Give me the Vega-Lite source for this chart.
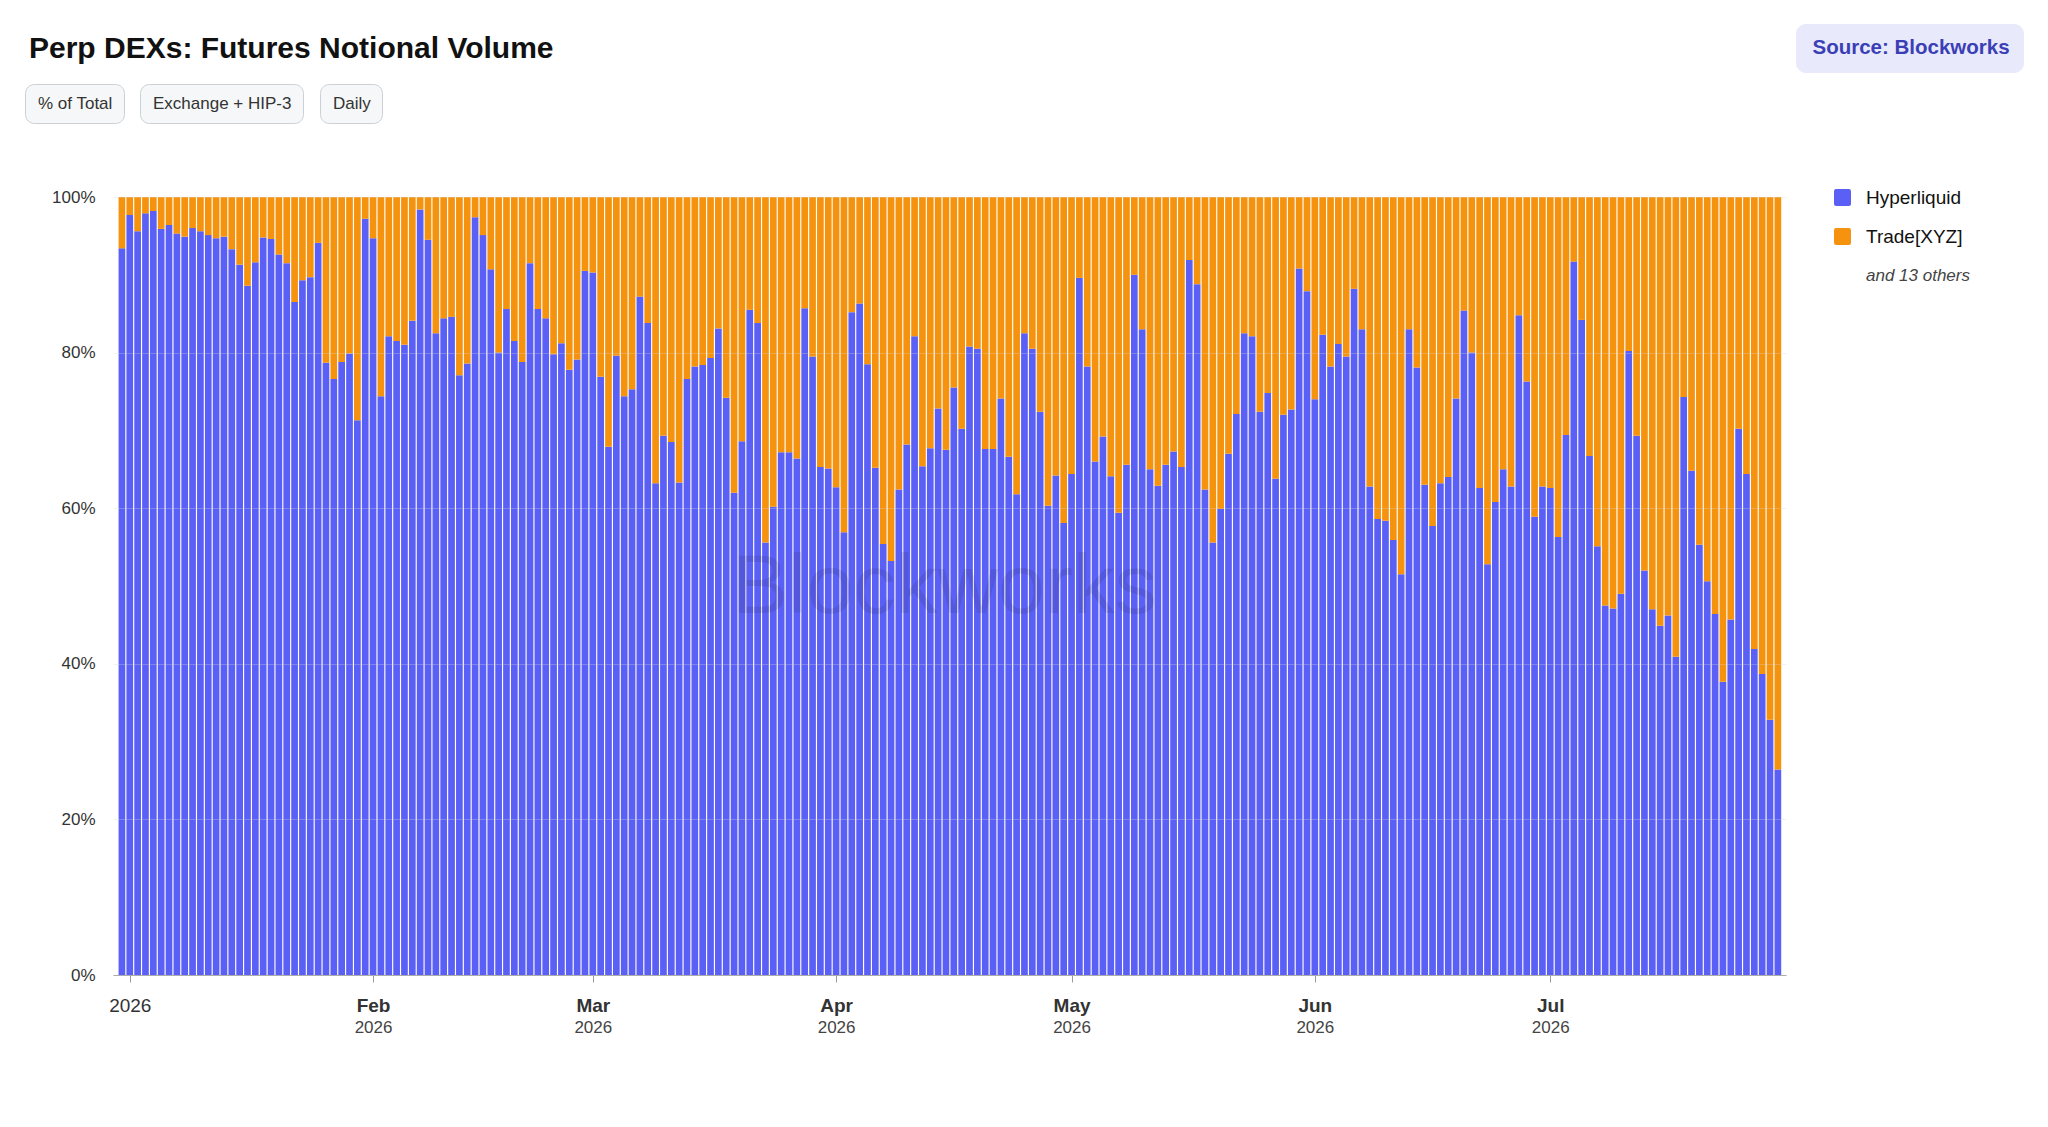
{
  "$schema": "https://vega.github.io/schema/vega-lite/v6.json",
  "description": "Perp DEXs futures notional volume, share of total",
  "width": 1673,
  "height": 778,
  "autosize": "none",
  "padding": {"left": 113, "top": 197, "right": 262, "bottom": 152},
  "background": "#ffffff",
  "title": {
    "text": "Perp DEXs: Futures Notional Volume",
    "anchor": "start",
    "frame": "group",
    "dx": -84,
    "offset": -40,
    "fontSize": 30,
    "fontWeight": "bold",
    "color": "#111111"
  },
  "data": {
    "values": [
      {"d": "2025-12-31", "hl": 93.4, "xyz": 6.6},
      {"d": "2026-01-01", "hl": 97.7, "xyz": 2.3},
      {"d": "2026-01-02", "hl": 95.6, "xyz": 4.4},
      {"d": "2026-01-03", "hl": 97.9, "xyz": 2.1},
      {"d": "2026-01-04", "hl": 98.2, "xyz": 1.8},
      {"d": "2026-01-05", "hl": 95.9, "xyz": 4.1},
      {"d": "2026-01-06", "hl": 96.4, "xyz": 3.6},
      {"d": "2026-01-07", "hl": 95.3, "xyz": 4.7},
      {"d": "2026-01-08", "hl": 94.9, "xyz": 5.1},
      {"d": "2026-01-09", "hl": 96.0, "xyz": 4.0},
      {"d": "2026-01-10", "hl": 95.6, "xyz": 4.4},
      {"d": "2026-01-11", "hl": 95.1, "xyz": 4.9},
      {"d": "2026-01-12", "hl": 94.7, "xyz": 5.3},
      {"d": "2026-01-13", "hl": 94.9, "xyz": 5.1},
      {"d": "2026-01-14", "hl": 93.3, "xyz": 6.7},
      {"d": "2026-01-15", "hl": 91.3, "xyz": 8.7},
      {"d": "2026-01-16", "hl": 88.6, "xyz": 11.4},
      {"d": "2026-01-17", "hl": 91.6, "xyz": 8.4},
      {"d": "2026-01-18", "hl": 94.8, "xyz": 5.2},
      {"d": "2026-01-19", "hl": 94.6, "xyz": 5.4},
      {"d": "2026-01-20", "hl": 92.6, "xyz": 7.4},
      {"d": "2026-01-21", "hl": 91.5, "xyz": 8.5},
      {"d": "2026-01-22", "hl": 86.5, "xyz": 13.5},
      {"d": "2026-01-23", "hl": 89.3, "xyz": 10.7},
      {"d": "2026-01-24", "hl": 89.7, "xyz": 10.3},
      {"d": "2026-01-25", "hl": 94.1, "xyz": 5.9},
      {"d": "2026-01-26", "hl": 78.7, "xyz": 21.3},
      {"d": "2026-01-27", "hl": 76.6, "xyz": 23.4},
      {"d": "2026-01-28", "hl": 78.8, "xyz": 21.2},
      {"d": "2026-01-29", "hl": 79.9, "xyz": 20.1},
      {"d": "2026-01-30", "hl": 71.3, "xyz": 28.7},
      {"d": "2026-01-31", "hl": 97.2, "xyz": 2.8},
      {"d": "2026-02-01", "hl": 94.7, "xyz": 5.3},
      {"d": "2026-02-02", "hl": 74.4, "xyz": 25.6},
      {"d": "2026-02-03", "hl": 82.1, "xyz": 17.9},
      {"d": "2026-02-04", "hl": 81.5, "xyz": 18.5},
      {"d": "2026-02-05", "hl": 81.0, "xyz": 19.0},
      {"d": "2026-02-06", "hl": 84.1, "xyz": 15.9},
      {"d": "2026-02-07", "hl": 98.4, "xyz": 1.6},
      {"d": "2026-02-08", "hl": 94.5, "xyz": 5.5},
      {"d": "2026-02-09", "hl": 82.5, "xyz": 17.5},
      {"d": "2026-02-10", "hl": 84.4, "xyz": 15.6},
      {"d": "2026-02-11", "hl": 84.6, "xyz": 15.4},
      {"d": "2026-02-12", "hl": 77.1, "xyz": 22.9},
      {"d": "2026-02-13", "hl": 78.6, "xyz": 21.4},
      {"d": "2026-02-14", "hl": 97.4, "xyz": 2.6},
      {"d": "2026-02-15", "hl": 95.1, "xyz": 4.9},
      {"d": "2026-02-16", "hl": 90.7, "xyz": 9.3},
      {"d": "2026-02-17", "hl": 80.0, "xyz": 20.0},
      {"d": "2026-02-18", "hl": 85.6, "xyz": 14.4},
      {"d": "2026-02-19", "hl": 81.5, "xyz": 18.5},
      {"d": "2026-02-20", "hl": 78.8, "xyz": 21.2},
      {"d": "2026-02-21", "hl": 91.5, "xyz": 8.5},
      {"d": "2026-02-22", "hl": 85.6, "xyz": 14.4},
      {"d": "2026-02-23", "hl": 84.4, "xyz": 15.6},
      {"d": "2026-02-24", "hl": 79.8, "xyz": 20.2},
      {"d": "2026-02-25", "hl": 81.2, "xyz": 18.8},
      {"d": "2026-02-26", "hl": 77.8, "xyz": 22.2},
      {"d": "2026-02-27", "hl": 79.1, "xyz": 20.9},
      {"d": "2026-02-28", "hl": 90.5, "xyz": 9.5},
      {"d": "2026-03-01", "hl": 90.3, "xyz": 9.7},
      {"d": "2026-03-02", "hl": 76.9, "xyz": 23.1},
      {"d": "2026-03-03", "hl": 67.9, "xyz": 32.1},
      {"d": "2026-03-04", "hl": 79.6, "xyz": 20.4},
      {"d": "2026-03-05", "hl": 74.4, "xyz": 25.6},
      {"d": "2026-03-06", "hl": 75.3, "xyz": 24.7},
      {"d": "2026-03-07", "hl": 87.2, "xyz": 12.8},
      {"d": "2026-03-08", "hl": 83.8, "xyz": 16.2},
      {"d": "2026-03-09", "hl": 63.2, "xyz": 36.8},
      {"d": "2026-03-10", "hl": 69.3, "xyz": 30.7},
      {"d": "2026-03-11", "hl": 68.5, "xyz": 31.5},
      {"d": "2026-03-12", "hl": 63.3, "xyz": 36.7},
      {"d": "2026-03-13", "hl": 76.6, "xyz": 23.4},
      {"d": "2026-03-14", "hl": 78.2, "xyz": 21.8},
      {"d": "2026-03-15", "hl": 78.4, "xyz": 21.6},
      {"d": "2026-03-16", "hl": 79.3, "xyz": 20.7},
      {"d": "2026-03-17", "hl": 83.1, "xyz": 16.9},
      {"d": "2026-03-18", "hl": 74.2, "xyz": 25.8},
      {"d": "2026-03-19", "hl": 62.0, "xyz": 38.0},
      {"d": "2026-03-20", "hl": 68.6, "xyz": 31.4},
      {"d": "2026-03-21", "hl": 85.5, "xyz": 14.5},
      {"d": "2026-03-22", "hl": 83.8, "xyz": 16.2},
      {"d": "2026-03-23", "hl": 55.6, "xyz": 44.4},
      {"d": "2026-03-24", "hl": 60.2, "xyz": 39.8},
      {"d": "2026-03-25", "hl": 67.2, "xyz": 32.8},
      {"d": "2026-03-26", "hl": 67.2, "xyz": 32.8},
      {"d": "2026-03-27", "hl": 66.4, "xyz": 33.6},
      {"d": "2026-03-28", "hl": 85.7, "xyz": 14.3},
      {"d": "2026-03-29", "hl": 79.5, "xyz": 20.5},
      {"d": "2026-03-30", "hl": 65.3, "xyz": 34.7},
      {"d": "2026-03-31", "hl": 65.1, "xyz": 34.9},
      {"d": "2026-04-01", "hl": 62.7, "xyz": 37.3},
      {"d": "2026-04-02", "hl": 56.9, "xyz": 43.1},
      {"d": "2026-04-03", "hl": 85.2, "xyz": 14.8},
      {"d": "2026-04-04", "hl": 86.3, "xyz": 13.7},
      {"d": "2026-04-05", "hl": 78.5, "xyz": 21.5},
      {"d": "2026-04-06", "hl": 65.2, "xyz": 34.8},
      {"d": "2026-04-07", "hl": 55.4, "xyz": 44.6},
      {"d": "2026-04-08", "hl": 53.2, "xyz": 46.8},
      {"d": "2026-04-09", "hl": 62.4, "xyz": 37.6},
      {"d": "2026-04-10", "hl": 68.2, "xyz": 31.8},
      {"d": "2026-04-11", "hl": 82.1, "xyz": 17.9},
      {"d": "2026-04-12", "hl": 65.4, "xyz": 34.6},
      {"d": "2026-04-13", "hl": 67.7, "xyz": 32.3},
      {"d": "2026-04-14", "hl": 72.8, "xyz": 27.2},
      {"d": "2026-04-15", "hl": 67.5, "xyz": 32.5},
      {"d": "2026-04-16", "hl": 75.5, "xyz": 24.5},
      {"d": "2026-04-17", "hl": 70.2, "xyz": 29.8},
      {"d": "2026-04-18", "hl": 80.8, "xyz": 19.2},
      {"d": "2026-04-19", "hl": 80.5, "xyz": 19.5},
      {"d": "2026-04-20", "hl": 67.6, "xyz": 32.4},
      {"d": "2026-04-21", "hl": 67.6, "xyz": 32.4},
      {"d": "2026-04-22", "hl": 74.1, "xyz": 25.9},
      {"d": "2026-04-23", "hl": 66.6, "xyz": 33.4},
      {"d": "2026-04-24", "hl": 61.8, "xyz": 38.2},
      {"d": "2026-04-25", "hl": 82.5, "xyz": 17.5},
      {"d": "2026-04-26", "hl": 80.5, "xyz": 19.5},
      {"d": "2026-04-27", "hl": 72.4, "xyz": 27.6},
      {"d": "2026-04-28", "hl": 60.3, "xyz": 39.7},
      {"d": "2026-04-29", "hl": 64.2, "xyz": 35.8},
      {"d": "2026-04-30", "hl": 58.1, "xyz": 41.9},
      {"d": "2026-05-01", "hl": 64.4, "xyz": 35.6},
      {"d": "2026-05-02", "hl": 89.6, "xyz": 10.4},
      {"d": "2026-05-03", "hl": 78.2, "xyz": 21.8},
      {"d": "2026-05-04", "hl": 66.0, "xyz": 34.0},
      {"d": "2026-05-05", "hl": 69.2, "xyz": 30.8},
      {"d": "2026-05-06", "hl": 64.1, "xyz": 35.9},
      {"d": "2026-05-07", "hl": 59.4, "xyz": 40.6},
      {"d": "2026-05-08", "hl": 65.6, "xyz": 34.4},
      {"d": "2026-05-09", "hl": 90.0, "xyz": 10.0},
      {"d": "2026-05-10", "hl": 83.0, "xyz": 17.0},
      {"d": "2026-05-11", "hl": 65.0, "xyz": 35.0},
      {"d": "2026-05-12", "hl": 62.9, "xyz": 37.1},
      {"d": "2026-05-13", "hl": 65.6, "xyz": 34.4},
      {"d": "2026-05-14", "hl": 67.3, "xyz": 32.7},
      {"d": "2026-05-15", "hl": 65.3, "xyz": 34.7},
      {"d": "2026-05-16", "hl": 91.9, "xyz": 8.1},
      {"d": "2026-05-17", "hl": 88.8, "xyz": 11.2},
      {"d": "2026-05-18", "hl": 62.4, "xyz": 37.6},
      {"d": "2026-05-19", "hl": 55.6, "xyz": 44.4},
      {"d": "2026-05-20", "hl": 59.9, "xyz": 40.1},
      {"d": "2026-05-21", "hl": 67.0, "xyz": 33.0},
      {"d": "2026-05-22", "hl": 72.1, "xyz": 27.9},
      {"d": "2026-05-23", "hl": 82.5, "xyz": 17.5},
      {"d": "2026-05-24", "hl": 82.1, "xyz": 17.9},
      {"d": "2026-05-25", "hl": 72.4, "xyz": 27.6},
      {"d": "2026-05-26", "hl": 74.8, "xyz": 25.2},
      {"d": "2026-05-27", "hl": 63.8, "xyz": 36.2},
      {"d": "2026-05-28", "hl": 72.0, "xyz": 28.0},
      {"d": "2026-05-29", "hl": 72.7, "xyz": 27.3},
      {"d": "2026-05-30", "hl": 90.8, "xyz": 9.2},
      {"d": "2026-05-31", "hl": 87.9, "xyz": 12.1},
      {"d": "2026-06-01", "hl": 74.0, "xyz": 26.0},
      {"d": "2026-06-02", "hl": 82.3, "xyz": 17.7},
      {"d": "2026-06-03", "hl": 78.2, "xyz": 21.8},
      {"d": "2026-06-04", "hl": 81.1, "xyz": 18.9},
      {"d": "2026-06-05", "hl": 79.5, "xyz": 20.5},
      {"d": "2026-06-06", "hl": 88.2, "xyz": 11.8},
      {"d": "2026-06-07", "hl": 83.0, "xyz": 17.0},
      {"d": "2026-06-08", "hl": 62.8, "xyz": 37.2},
      {"d": "2026-06-09", "hl": 58.6, "xyz": 41.4},
      {"d": "2026-06-10", "hl": 58.4, "xyz": 41.6},
      {"d": "2026-06-11", "hl": 55.9, "xyz": 44.1},
      {"d": "2026-06-12", "hl": 51.5, "xyz": 48.5},
      {"d": "2026-06-13", "hl": 83.0, "xyz": 17.0},
      {"d": "2026-06-14", "hl": 78.1, "xyz": 21.9},
      {"d": "2026-06-15", "hl": 63.0, "xyz": 37.0},
      {"d": "2026-06-16", "hl": 57.7, "xyz": 42.3},
      {"d": "2026-06-17", "hl": 63.2, "xyz": 36.8},
      {"d": "2026-06-18", "hl": 64.0, "xyz": 36.0},
      {"d": "2026-06-19", "hl": 74.1, "xyz": 25.9},
      {"d": "2026-06-20", "hl": 85.4, "xyz": 14.6},
      {"d": "2026-06-21", "hl": 80.0, "xyz": 20.0},
      {"d": "2026-06-22", "hl": 62.6, "xyz": 37.4},
      {"d": "2026-06-23", "hl": 52.8, "xyz": 47.2},
      {"d": "2026-06-24", "hl": 60.8, "xyz": 39.2},
      {"d": "2026-06-25", "hl": 65.0, "xyz": 35.0},
      {"d": "2026-06-26", "hl": 62.8, "xyz": 37.2},
      {"d": "2026-06-27", "hl": 84.8, "xyz": 15.2},
      {"d": "2026-06-28", "hl": 76.3, "xyz": 23.7},
      {"d": "2026-06-29", "hl": 58.9, "xyz": 41.1},
      {"d": "2026-06-30", "hl": 62.8, "xyz": 37.2},
      {"d": "2026-07-01", "hl": 62.6, "xyz": 37.4},
      {"d": "2026-07-02", "hl": 56.3, "xyz": 43.7},
      {"d": "2026-07-03", "hl": 69.4, "xyz": 30.6},
      {"d": "2026-07-04", "hl": 91.7, "xyz": 8.3},
      {"d": "2026-07-05", "hl": 84.2, "xyz": 15.8},
      {"d": "2026-07-06", "hl": 66.7, "xyz": 33.3},
      {"d": "2026-07-07", "hl": 55.1, "xyz": 44.9},
      {"d": "2026-07-08", "hl": 47.5, "xyz": 52.5},
      {"d": "2026-07-09", "hl": 47.1, "xyz": 52.9},
      {"d": "2026-07-10", "hl": 49.0, "xyz": 51.0},
      {"d": "2026-07-11", "hl": 80.2, "xyz": 19.8},
      {"d": "2026-07-12", "hl": 69.3, "xyz": 30.7},
      {"d": "2026-07-13", "hl": 52.0, "xyz": 48.0},
      {"d": "2026-07-14", "hl": 47.0, "xyz": 53.0},
      {"d": "2026-07-15", "hl": 44.9, "xyz": 55.1},
      {"d": "2026-07-16", "hl": 46.2, "xyz": 53.8},
      {"d": "2026-07-17", "hl": 40.9, "xyz": 59.1},
      {"d": "2026-07-18", "hl": 74.3, "xyz": 25.7},
      {"d": "2026-07-19", "hl": 64.8, "xyz": 35.2},
      {"d": "2026-07-20", "hl": 55.3, "xyz": 44.7},
      {"d": "2026-07-21", "hl": 50.6, "xyz": 49.4},
      {"d": "2026-07-22", "hl": 46.4, "xyz": 53.6},
      {"d": "2026-07-23", "hl": 37.7, "xyz": 62.3},
      {"d": "2026-07-24", "hl": 45.7, "xyz": 54.3},
      {"d": "2026-07-25", "hl": 70.2, "xyz": 29.8},
      {"d": "2026-07-26", "hl": 64.4, "xyz": 35.6},
      {"d": "2026-07-27", "hl": 41.9, "xyz": 58.1},
      {"d": "2026-07-28", "hl": 38.7, "xyz": 61.3},
      {"d": "2026-07-29", "hl": 32.8, "xyz": 67.2},
      {"d": "2026-07-30", "hl": 26.4, "xyz": 73.6}
    ]
  },
  "transform": [{"fold": ["hl", "xyz"], "as": ["key", "share"]}],
  "layer": [
    {
      "mark": {"type": "bar", "width": 6.7},
      "encoding": {
        "x": {
          "field": "d",
          "type": "temporal",
          "scale": {
            "type": "utc",
            "domain": [
              {"year": 2025, "month": 12, "date": 30, "hours": 12, "utc": true},
              {"year": 2026, "month": 7, "date": 30, "hours": 9, "minutes": 36, "utc": true}
            ]
          },
          "axis": {
            "title": null,
            "values": [
              {"year": 2026, "month": 1, "date": 1, "utc": true},
              {"year": 2026, "month": 2, "date": 1, "utc": true},
              {"year": 2026, "month": 3, "date": 1, "utc": true},
              {"year": 2026, "month": 4, "date": 1, "utc": true},
              {"year": 2026, "month": 5, "date": 1, "utc": true},
              {"year": 2026, "month": 6, "date": 1, "utc": true},
              {"year": 2026, "month": 7, "date": 1, "utc": true}
            ],
            "labelExpr": "utcmonth(datum.value) == 0 ? utcFormat(datum.value, '%Y') : utcFormat(datum.value, '%b')",
            "labelFontWeight": {"condition": {"test": "utcmonth(datum.value) == 0", "value": "normal"}, "value": "bold"},
            "labelFontSize": 19,
            "labelColor": "#333333",
            "labelPadding": 14,
            "grid": false,
            "domainColor": "#9a9a9a",
            "tickColor": "#9a9a9a",
            "tickSize": 7
          }
        },
        "y": {
          "field": "share",
          "type": "quantitative",
          "stack": "normalize",
          "axis": {
            "title": null,
            "values": [0, 0.2, 0.4, 0.6, 0.8, 1],
            "format": ".0%",
            "labelFontSize": 17,
            "labelColor": "#333333",
            "labelPadding": 18,
            "ticks": false,
            "domain": false,
            "grid": true,
            "gridColor": "#d8d8d8",
            "gridOpacity": 0.3,
            "zindex": 1
          }
        },
        "color": {
          "field": "key",
          "type": "nominal",
          "scale": {
            "domain": ["hl", "xyz", "others"],
            "range": ["#5A5FF5", "#F5930E", "rgba(255,255,255,0)"]
          },
          "legend": {
            "orient": "none",
            "legendX": 1698,
            "legendY": -9,
            "padding": 0,
            "title": null,
            "symbolType": "M -0.75 -1 L 0.75 -1 Q 1 -1 1 -0.75 L 1 0.75 Q 1 1 0.75 1 L -0.75 1 Q -1 1 -1 0.75 L -1 -0.75 Q -1 -1 -0.75 -1 Z",
            "symbolSize": 289,
            "symbolStrokeWidth": 0,
            "symbolOffset": 22,
            "labelOffset": 14,
            "labelFontSize": 19,
            "labelColor": "#111111",
            "rowPadding": 19,
            "labelExpr": "datum.value == 'hl' ? 'Hyperliquid' : datum.value == 'xyz' ? 'Trade[XYZ]' : 'and 13 others'",
            "encode": {
              "labels": {
                "update": {
                  "fontStyle": {"signal": "datum.value == 'others' ? 'italic' : 'normal'"},
                  "fontSize": {"signal": "datum.value == 'others' ? 17 : 19"},
                  "fill": {"signal": "datum.value == 'others' ? '#444444' : '#111111'"}
                }
              }
            }
          }
        },
        "order": {"field": "key", "sort": "ascending"}
      }
    },
    {
      "mark": {"type": "point", "opacity": 0},
      "encoding": {
        "x": {
          "field": "d",
          "type": "temporal",
          "scale": {
            "type": "utc",
            "domain": [
              {"year": 2025, "month": 12, "date": 30, "hours": 12, "utc": true},
              {"year": 2026, "month": 7, "date": 30, "hours": 9, "minutes": 36, "utc": true}
            ]
          },
          "axis": {
            "title": null,
            "orient": "bottom",
            "values": [
              {"year": 2026, "month": 2, "date": 1, "utc": true},
              {"year": 2026, "month": 3, "date": 1, "utc": true},
              {"year": 2026, "month": 4, "date": 1, "utc": true},
              {"year": 2026, "month": 5, "date": 1, "utc": true},
              {"year": 2026, "month": 6, "date": 1, "utc": true},
              {"year": 2026, "month": 7, "date": 1, "utc": true}
            ],
            "labelExpr": "utcFormat(datum.value, '%Y')",
            "labelFontSize": 17,
            "labelColor": "#444444",
            "labelPadding": 37,
            "domain": false,
            "ticks": true,
            "tickSize": 7,
            "tickOpacity": 0,
            "grid": false
          }
        },
        "strokeDash": {
          "field": "key",
          "type": "nominal",
          "scale": {"domain": ["hl", "xyz"]},
          "legend": {
            "orient": "none",
            "legendX": 1683,
            "legendY": -173,
            "values": ["hl"],
            "padding": 14,
            "fillColor": "#E8E9FB",
            "cornerRadius": 10,
            "title": null,
            "symbolSize": 0,
            "symbolOpacity": 0,
            "symbolStrokeWidth": 0,
            "labelOffset": -18,
            "labelExpr": "'Source: Blockworks'",
            "labelFontSize": 20.5,
            "labelFontWeight": "bold",
            "labelColor": "#3B3FB6",
            "labelLimit": 600
          }
        },
        "shape": {
          "field": "key",
          "type": "nominal",
          "scale": {"domain": ["xyz", "hl"]},
          "legend": {
            "orient": "none",
            "legendX": -88,
            "legendY": -113,
            "values": ["hl"],
            "padding": 11,
            "fillColor": "#F6F7F8",
            "strokeColor": "#CDD0D4",
            "cornerRadius": 9,
            "title": null,
            "symbolSize": 0,
            "symbolOpacity": 0,
            "symbolStrokeWidth": 0,
            "labelOffset": -15,
            "labelExpr": "'% of Total'",
            "labelFontSize": 17,
            "labelColor": "#333333",
            "labelLimit": 600
          }
        },
        "fill": {
          "field": "key",
          "type": "nominal",
          "scale": {"domain": ["hl", "xyz", "hip"], "range": ["#ffffff", "#ffffff", "#ffffff"]},
          "legend": {
            "orient": "none",
            "legendX": 27,
            "legendY": -113,
            "values": ["hl"],
            "padding": 11,
            "fillColor": "#F6F7F8",
            "strokeColor": "#CDD0D4",
            "cornerRadius": 9,
            "title": null,
            "symbolSize": 0,
            "symbolOpacity": 0,
            "symbolStrokeWidth": 0,
            "labelOffset": -15,
            "labelExpr": "'Exchange + HIP-3'",
            "labelFontSize": 17,
            "labelColor": "#333333",
            "labelLimit": 600
          }
        },
        "strokeWidth": {
          "field": "key",
          "type": "ordinal",
          "scale": {"domain": ["xyz", "hl", "day"]},
          "legend": {
            "orient": "none",
            "legendX": 207,
            "legendY": -113,
            "values": ["hl"],
            "padding": 11,
            "fillColor": "#F6F7F8",
            "strokeColor": "#CDD0D4",
            "cornerRadius": 9,
            "title": null,
            "symbolSize": 0,
            "symbolOpacity": 0,
            "symbolStrokeWidth": 0,
            "labelOffset": -15,
            "labelExpr": "'Daily'",
            "labelFontSize": 17,
            "labelColor": "#333333",
            "labelLimit": 600
          }
        },
        "stroke": {
          "field": "key",
          "type": "nominal",
          "scale": {"domain": ["hl", "xyz", "wm"], "range": ["#ffffff", "#ffffff", "#ffffff"]},
          "legend": {
            "orient": "none",
            "legendX": 551,
            "legendY": 349,
            "values": ["hl"],
            "zindex": 2,
            "padding": 0,
            "title": null,
            "symbolSize": 0,
            "symbolOpacity": 0,
            "symbolStrokeWidth": 0,
            "labelOffset": -16,
            "labelExpr": "'Blockworks'",
            "labelFontSize": 84,
            "labelColor": "rgba(40,40,60,0.13)",
            "labelLimit": 900
          }
        }
      }
    }
  ],
  "resolve": {"axis": {"x": "independent"}},
  "config": {
    "font": "Liberation Sans",
    "view": {"stroke": null}
  }
}
